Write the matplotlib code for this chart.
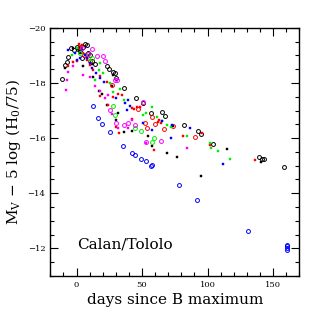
import matplotlib
matplotlib.use("Agg")
import matplotlib.pyplot as plt
from matplotlib.ticker import MultipleLocator

plt.rcParams['font.family'] = ['DejaVu Serif']
plt.rcParams['mathtext.fontset'] = 'dejavuserif'

# Black open
bk_o_days = [-11.2,-8.7,-7.6,-6.4,-4.1,-2,0,1,2,3,4,5,6.4,8.1,9,10,12,14,22.9,25,27.5,29.3,30.5,36.4,45.3,50.9,57,65.4,67.4,82.2,92.4,95.2,104.3,139.2,141.7,143,158.3]
bk_o_mags = [-18.15,-18.65,-18.77,-18.95,-19.25,-19.2,-19.3,-19.22,-19.28,-19.15,-18.9,-19.3,-19.43,-19.37,-19.1,-19.0,-18.8,-18.7,-18.6,-18.5,-18.4,-18.35,-18.17,-17.82,-17.44,-17.27,-16.91,-16.94,-16.79,-16.46,-16.24,-16.14,-15.77,-15.33,-15.23,-15.26,-14.97]
# Black filled
bk_f_days = [-8.9,-2.5,2.5,5,8,11.5,12.7,17.3,19.1,23.4,27,30.3,36.1,42.7,54.2,57.3,68.7,76.6,94.7,114.5,140.7,28,32,74]
bk_f_mags = [-18.53,-19.26,-19.07,-18.6,-18.9,-18.7,-18.2,-17.7,-17.6,-17.2,-17.9,-16.67,-16.22,-16.25,-16.07,-15.71,-15.47,-15.33,-14.63,-15.6,-15.14,-18.3,-16.9,-16.45]
# Red filled
rd_f_days = [-6.4,-3,1.5,3.8,5,7.6,10,12.7,17.8,22.9,17.8,24.2,28,31.8,34.4,42,44,45.8,48.3,42.7,62.1,62.8,64.4,80.9,96,101.8,135.9,30,32.6,59.3,0,8]
rd_f_mags = [-18.6,-18.75,-19.41,-19.38,-19.1,-18.95,-18.65,-18.47,-18.26,-18.02,-17.51,-17.21,-17.49,-17.6,-17.57,-17.1,-17.06,-17.13,-17.13,-16.7,-16.59,-16.67,-16.53,-16.07,-16.17,-15.74,-15.22,-16.41,-16.19,-15.56,-18.8,-18.85]
# Red open
rd_o_days = [2.5,6,10,26.7,53.9,57.3,66.9,73.8,90.8,51.9,47,60]
rd_o_mags = [-19.3,-19.0,-18.8,-17.93,-16.37,-16.77,-16.34,-16.43,-16.05,-16.55,-17.05,-16.5]
# Green filled
gr_f_days = [-3.8,7.6,17.8,16.8,14,25.4,28,33.1,36.1,50.9,53.4,57.8,61.1,64.9,68.7,72,84,101.8,102.5,108.1,117,0,4,10,20]
gr_f_mags = [-19.02,-19.02,-18.71,-18.47,-18.11,-17.99,-17.66,-17.78,-17.39,-16.85,-16.91,-17.13,-16.77,-16.61,-16.49,-16.41,-16.07,-15.83,-15.65,-15.53,-15.26,-19.25,-19.2,-18.85,-18.35]
# Green open
gr_o_days = [28,29.3,44.3,49.1,59,57.3,3,12]
gr_o_mags = [-17.15,-16.85,-16.37,-16.25,-16.01,-15.86,-19.1,-18.9]
# Blue filled
bl_f_days = [-6.4,-1,2.5,6.4,10.2,14.8,17.8,20.9,30.5,36.9,39.4,40.7,50.9,57.3,65.1,72.8,71.8,86.5,111.5,38.2,0,4,8,12]
bl_f_mags = [-19.2,-19.08,-18.9,-19.02,-18.72,-18.35,-18.17,-18.05,-17.45,-17.27,-17.39,-17.15,-16.55,-16.29,-16.61,-16.49,-16.01,-16.37,-15.05,-17.03,-18.85,-19.2,-18.9,-18.55]
# Blue open
bl_o_days = [12.5,16,19.3,25.2,35.4,42.2,44.3,49.1,53.4,56.5,57.5,78.4,92.1,131,160.3,160.3,160.3,160.3]
bl_o_mags = [-17.15,-16.74,-16.52,-16.22,-15.71,-15.47,-15.40,-15.26,-15.16,-14.99,-15.01,-14.29,-13.75,-12.64,-12.13,-12.07,-12.0,-11.94]
# Magenta open
mg_o_days = [3.8,11.5,15.3,20.4,29.3,31,25.4,30,36.1,38.9,44.5,50.4,53.4,64.6,9,22]
mg_o_mags = [-19.25,-19.23,-18.98,-18.98,-18.11,-18.11,-17.03,-16.55,-16.49,-16.55,-16.46,-17.3,-15.86,-15.89,-19.05,-18.8]
# Magenta filled
mg_f_days = [-6.4,-7.6,-8.1,10.2,17.8,21.9,27.2,31.6,39,52.9,84.7,42.2,-3,5,14,24]
mg_f_mags = [-18.41,-18.11,-17.75,-18.23,-17.69,-17.45,-16.89,-16.37,-16.37,-15.83,-15.65,-16.67,-18.6,-18.3,-17.9,-17.55]

fig = plt.figure(figsize=(3.27, 3.27), dpi=100)
ax = fig.add_axes([0.154, 0.156, 0.761, 0.759])

open_kw = dict(linestyle='none', marker='o', markersize=2.8, markerfacecolor='none', markeredgewidth=0.7)
fill_kw = dict(linestyle='none', marker='s', markersize=2.0, markeredgewidth=0.3)

ax.plot(bk_o_days, bk_o_mags, color='black', **open_kw)
ax.plot(bk_f_days, bk_f_mags, color='black', **fill_kw)
ax.plot(rd_f_days, rd_f_mags, color='#ff0000', **fill_kw)
ax.plot(rd_o_days, rd_o_mags, color='#ff0000', **open_kw)
ax.plot(gr_f_days, gr_f_mags, color='#00ee00', **fill_kw)
ax.plot(gr_o_days, gr_o_mags, color='#00ee00', **open_kw)
ax.plot(bl_f_days, bl_f_mags, color='#0000ff', **fill_kw)
ax.plot(bl_o_days, bl_o_mags, color='#0000ff', **open_kw)
ax.plot(mg_o_days, mg_o_mags, color='#ff00ff', **open_kw)
ax.plot(mg_f_days, mg_f_mags, color='#ff00ff', **fill_kw)

ax.set_xlim(-20, 170)
ax.set_ylim(-11, -20)
ax.xaxis.set_major_locator(MultipleLocator(50))
ax.xaxis.set_minor_locator(MultipleLocator(10))
ax.yaxis.set_major_locator(MultipleLocator(2))
ax.yaxis.set_minor_locator(MultipleLocator(0.5))
ax.tick_params(which='both', direction='in', top=True, right=True, labelsize=6, width=0.8)
ax.tick_params(which='major', length=6)
ax.tick_params(which='minor', length=3)
for s in ax.spines.values():
    s.set_linewidth(1.0)

ax.set_xlabel('days since B maximum', fontsize=11, labelpad=3)
ax.set_ylabel(r'M$_\mathrm{V}$ $-$ 5 log (H$_0$/75)', fontsize=11, labelpad=3)
ax.text(0.2, -12.15, 'Calan/Tololo', fontsize=11, va='center', ha='left')

fig.savefig('out.png', dpi=100)
